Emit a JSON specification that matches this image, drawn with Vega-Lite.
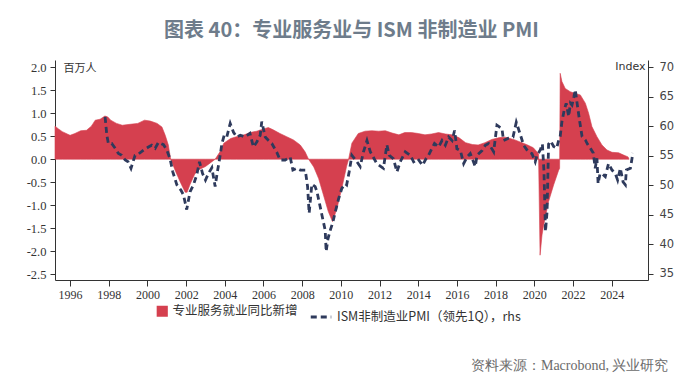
{
  "$schema": "https://vega.github.io/schema/vega-lite/v6.json",
  "width": 593,
  "height": 220,
  "autosize": {"type": "none"},
  "padding": {"left": 55, "top": 60, "right": 52, "bottom": 105},
  "background": "white",
  "config": {"view": {"stroke": null}, "axis": {"grid": false}},
  "title": {
    "text": "图表 40：专业服务业与 ISM 非制造业 PMI",
    "font": "Noto Sans CJK SC",
    "fontSize": 20,
    "fontWeight": "bold",
    "color": "#6e7c8b",
    "anchor": "middle",
    "frame": "group",
    "baseline": "middle",
    "offset": 9
  },
  "datasets": {
    "jobs": [{"t":1995.22,"v":0.72},{"t":1995.4,"v":0.66},{"t":1995.6,"v":0.6},{"t":1995.85,"v":0.55},{"t":1996.0,"v":0.52},{"t":1996.25,"v":0.56},{"t":1996.55,"v":0.62},{"t":1996.85,"v":0.63},{"t":1997.1,"v":0.72},{"t":1997.3,"v":0.85},{"t":1997.55,"v":0.87},{"t":1997.8,"v":0.94},{"t":1997.95,"v":0.92},{"t":1998.1,"v":0.85},{"t":1998.4,"v":0.78},{"t":1998.7,"v":0.74},{"t":1999.1,"v":0.76},{"t":1999.5,"v":0.78},{"t":1999.85,"v":0.85},{"t":2000.15,"v":0.83},{"t":2000.5,"v":0.78},{"t":2000.75,"v":0.7},{"t":2000.92,"v":0.52},{"t":2001.08,"v":0.31},{"t":2001.2,"v":0.0},{"t":2001.45,"v":-0.26},{"t":2001.7,"v":-0.5},{"t":2001.95,"v":-0.72},{"t":2002.05,"v":-0.72},{"t":2002.2,"v":-0.55},{"t":2002.45,"v":-0.32},{"t":2002.7,"v":-0.22},{"t":2003.0,"v":-0.16},{"t":2003.25,"v":-0.08},{"t":2003.5,"v":0.0},{"t":2003.75,"v":0.16},{"t":2003.95,"v":0.35},{"t":2004.3,"v":0.45},{"t":2004.6,"v":0.49},{"t":2005.0,"v":0.53},{"t":2005.3,"v":0.58},{"t":2005.65,"v":0.61},{"t":2006.0,"v":0.66},{"t":2006.25,"v":0.69},{"t":2006.5,"v":0.64},{"t":2006.85,"v":0.56},{"t":2007.2,"v":0.49},{"t":2007.55,"v":0.42},{"t":2007.9,"v":0.31},{"t":2008.15,"v":0.16},{"t":2008.33,"v":0.0},{"t":2008.6,"v":-0.17},{"t":2008.85,"v":-0.42},{"t":2009.1,"v":-0.78},{"t":2009.35,"v":-1.14},{"t":2009.57,"v":-1.36},{"t":2009.8,"v":-1.07},{"t":2010.05,"v":-0.63},{"t":2010.3,"v":-0.15},{"t":2010.4,"v":0.0},{"t":2010.57,"v":0.35},{"t":2010.9,"v":0.56},{"t":2011.25,"v":0.61},{"t":2011.6,"v":0.62},{"t":2011.95,"v":0.61},{"t":2012.3,"v":0.62},{"t":2012.65,"v":0.57},{"t":2013.0,"v":0.53},{"t":2013.3,"v":0.58},{"t":2013.65,"v":0.58},{"t":2014.0,"v":0.56},{"t":2014.35,"v":0.53},{"t":2014.7,"v":0.55},{"t":2015.05,"v":0.58},{"t":2015.4,"v":0.55},{"t":2015.75,"v":0.53},{"t":2016.1,"v":0.47},{"t":2016.45,"v":0.36},{"t":2016.8,"v":0.32},{"t":2017.1,"v":0.31},{"t":2017.45,"v":0.36},{"t":2017.8,"v":0.43},{"t":2018.2,"v":0.47},{"t":2018.5,"v":0.48},{"t":2018.75,"v":0.45},{"t":2019.0,"v":0.42},{"t":2019.3,"v":0.37},{"t":2019.6,"v":0.32},{"t":2019.95,"v":0.25},{"t":2020.22,"v":0.12},{"t":2020.3,"v":-2.09},{"t":2020.4,"v":-1.65},{"t":2020.48,"v":-1.45},{"t":2020.6,"v":-1.2},{"t":2020.74,"v":-0.92},{"t":2021.0,"v":-0.56},{"t":2021.26,"v":-0.24},{"t":2021.31,"v":-0.2},{"t":2021.34,"v":1.87},{"t":2021.43,"v":1.69},{"t":2021.6,"v":1.54},{"t":2021.86,"v":1.47},{"t":2022.12,"v":1.43},{"t":2022.38,"v":1.4},{"t":2022.64,"v":1.22},{"t":2022.81,"v":1.0},{"t":2022.98,"v":0.71},{"t":2023.24,"v":0.49},{"t":2023.5,"v":0.31},{"t":2023.76,"v":0.2},{"t":2024.02,"v":0.15},{"t":2024.36,"v":0.14},{"t":2024.62,"v":0.09},{"t":2024.85,"v":0.05},{"t":2024.9,"v":0.0}],
    "pmi": [{"t":1997.81,"r":61.6},{"t":1997.9,"r":58.5},{"t":1997.98,"r":57.1},{"t":1998.15,"r":57.1},{"t":1998.33,"r":56.3},{"t":1998.5,"r":55.4},{"t":1998.67,"r":55.1},{"t":1998.85,"r":54.3},{"t":1999.0,"r":54.0},{"t":1999.15,"r":52.9},{"t":1999.36,"r":55.1},{"t":1999.53,"r":55.3},{"t":1999.8,"r":56.0},{"t":2000.05,"r":56.5},{"t":2000.22,"r":56.8},{"t":2000.4,"r":56.3},{"t":2000.57,"r":57.3},{"t":2000.83,"r":56.9},{"t":2001.0,"r":56.0},{"t":2001.17,"r":54.5},{"t":2001.31,"r":52.3},{"t":2001.52,"r":50.1},{"t":2001.73,"r":49.2},{"t":2001.86,"r":48.4},{"t":2002.03,"r":45.9},{"t":2002.2,"r":48.9},{"t":2002.38,"r":50.1},{"t":2002.55,"r":51.8},{"t":2002.69,"r":54.0},{"t":2002.85,"r":52.0},{"t":2003.0,"r":50.9},{"t":2003.15,"r":52.0},{"t":2003.33,"r":53.0},{"t":2003.5,"r":49.8},{"t":2003.6,"r":52.0},{"t":2003.76,"r":55.1},{"t":2003.85,"r":57.1},{"t":2003.97,"r":58.5},{"t":2004.1,"r":58.2},{"t":2004.28,"r":60.5},{"t":2004.45,"r":59.0},{"t":2004.62,"r":58.2},{"t":2004.8,"r":58.5},{"t":2005.05,"r":58.2},{"t":2005.3,"r":58.8},{"t":2005.48,"r":56.5},{"t":2005.66,"r":57.4},{"t":2005.83,"r":58.5},{"t":2005.91,"r":60.8},{"t":2006.09,"r":58.2},{"t":2006.26,"r":57.6},{"t":2006.43,"r":57.1},{"t":2006.69,"r":55.6},{"t":2006.86,"r":54.3},{"t":2007.12,"r":54.3},{"t":2007.38,"r":54.8},{"t":2007.52,"r":52.6},{"t":2007.72,"r":52.9},{"t":2007.9,"r":52.6},{"t":2008.16,"r":52.6},{"t":2008.28,"r":49.8},{"t":2008.36,"r":45.3},{"t":2008.5,"r":50.2},{"t":2008.67,"r":49.8},{"t":2008.76,"r":49.0},{"t":2009.02,"r":45.0},{"t":2009.19,"r":42.4},{"t":2009.24,"r":38.8},{"t":2009.33,"r":40.9},{"t":2009.45,"r":42.4},{"t":2009.59,"r":43.8},{"t":2009.71,"r":45.5},{"t":2009.88,"r":47.7},{"t":2010.05,"r":49.5},{"t":2010.23,"r":50.3},{"t":2010.3,"r":50.1},{"t":2010.43,"r":52.3},{"t":2010.57,"r":55.1},{"t":2010.83,"r":54.0},{"t":2011.0,"r":53.2},{"t":2011.17,"r":55.7},{"t":2011.35,"r":57.6},{"t":2011.52,"r":55.7},{"t":2011.86,"r":53.7},{"t":2012.2,"r":52.9},{"t":2012.38,"r":56.9},{"t":2012.5,"r":55.1},{"t":2012.72,"r":54.5},{"t":2012.9,"r":52.3},{"t":2013.07,"r":54.0},{"t":2013.33,"r":55.7},{"t":2013.59,"r":55.1},{"t":2013.76,"r":54.0},{"t":2013.98,"r":54.5},{"t":2014.22,"r":53.4},{"t":2014.4,"r":54.5},{"t":2014.53,"r":55.1},{"t":2014.84,"r":57.1},{"t":2015.05,"r":56.5},{"t":2015.23,"r":57.6},{"t":2015.4,"r":56.8},{"t":2015.57,"r":58.2},{"t":2015.75,"r":57.6},{"t":2015.88,"r":59.3},{"t":2016.0,"r":56.2},{"t":2016.18,"r":55.9},{"t":2016.35,"r":53.7},{"t":2016.52,"r":54.8},{"t":2016.69,"r":55.4},{"t":2016.95,"r":53.2},{"t":2017.04,"r":55.1},{"t":2017.3,"r":55.9},{"t":2017.47,"r":56.8},{"t":2017.64,"r":57.1},{"t":2017.9,"r":55.7},{"t":2018.07,"r":60.2},{"t":2018.16,"r":60.0},{"t":2018.33,"r":59.6},{"t":2018.41,"r":57.6},{"t":2018.67,"r":58.0},{"t":2018.9,"r":58.2},{"t":2019.07,"r":60.7},{"t":2019.28,"r":58.6},{"t":2019.45,"r":56.8},{"t":2019.71,"r":55.6},{"t":2019.88,"r":55.4},{"t":2020.05,"r":54.0},{"t":2020.14,"r":55.1},{"t":2020.31,"r":56.0},{"t":2020.42,"r":57.0},{"t":2020.5,"r":52.5},{"t":2020.58,"r":42.2},{"t":2020.66,"r":45.5},{"t":2020.74,"r":57.0},{"t":2020.85,"r":57.5},{"t":2021.0,"r":56.6},{"t":2021.16,"r":56.3},{"t":2021.25,"r":57.5},{"t":2021.34,"r":58.3},{"t":2021.43,"r":60.8},{"t":2021.55,"r":62.8},{"t":2021.65,"r":63.9},{"t":2021.78,"r":61.7},{"t":2021.87,"r":63.9},{"t":2021.95,"r":63.6},{"t":2022.05,"r":65.0},{"t":2022.12,"r":66.2},{"t":2022.24,"r":63.3},{"t":2022.35,"r":60.8},{"t":2022.47,"r":58.3},{"t":2022.64,"r":57.7},{"t":2022.75,"r":57.0},{"t":2022.9,"r":56.3},{"t":2023.05,"r":55.5},{"t":2023.15,"r":52.9},{"t":2023.24,"r":54.6},{"t":2023.3,"r":50.3},{"t":2023.4,"r":52.0},{"t":2023.5,"r":52.0},{"t":2023.67,"r":51.5},{"t":2023.84,"r":53.7},{"t":2024.02,"r":52.6},{"t":2024.19,"r":52.0},{"t":2024.31,"r":50.9},{"t":2024.45,"r":52.9},{"t":2024.59,"r":50.6},{"t":2024.71,"r":50.1},{"t":2024.76,"r":52.6},{"t":2024.97,"r":52.9},{"t":2025.1,"r":55.5}]
  },
  "layer": [
    {
      "data": {"name": "jobs"},
      "mark": {"type": "area", "fill": "#d5404f", "strokeWidth": 0.6, "opacity": 1},
      "encoding": {
        "x": {
          "field": "t", "type": "quantitative",
          "scale": {"domain": [1995.22, 2025.88], "nice": false, "zero": false},
          "axis": {
            "values": [1996,1998,2000,2002,2004,2006,2008,2010,2012,2014,2016,2018,2020,2022,2024],
            "format": "d",
            "labelFont": "Liberation Serif", "labelFontSize": 12, "labelColor": "#333",
            "domainColor": "#333", "tickColor": "#333", "tickSize": 6, "labelPadding": 3,
            "labelFlush": false,
            "title": "资料来源：Macrobond, 兴业研究",
            "titleFont": "Liberation Serif", "titleFontSize": 14, "titleFontWeight": "normal",
            "titleColor": "#6b6b6b", "titleX": 613, "titleY": 85, "titleAlign": "right", "titleBaseline": "middle"
          }
        },
        "y": {
          "field": "v", "type": "quantitative", "stack": null,
          "scale": {"domain": [-2.63, 2.16], "nice": false, "zero": false},
          "axis": {
            "values": [-2.5,-2.0,-1.5,-1.0,-0.5,0.0,0.5,1.0,1.5,2.0],
            "labelExpr": "replace(format(datum.value, '.1f'), '−', '-')",
            "labelFont": "Liberation Serif", "labelFontSize": 12.5, "labelColor": "#333",
            "domainColor": "#333", "tickColor": "#333", "tickSize": 5, "labelPadding": 4,
            "title": "百万人", "titleAngle": 0, "titleX": 8, "titleY": 8,
            "titleAlign": "left", "titleBaseline": "middle",
            "titleFont": "Noto Sans CJK SC", "titleFontSize": 11, "titleFontWeight": "normal", "titleColor": "#333"
          }
        },
        "y2": {"datum": 0},
        "stroke": {
          "datum": "专业服务就业同比新增", "type": "nominal",
          "scale": {"domain": ["专业服务就业同比新增"], "range": ["#d5404f"]},
          "legend": {
            "orient": "none", "legendX": 101, "legendY": 245, "title": null,
            "labelFont": "Noto Sans CJK SC", "labelFontSize": 12.5, "labelColor": "#333", "labelLimit": 300,
            "symbolType": "square", "symbolSize": 80, "symbolFillColor": "#ffffff",
            "symbolStrokeWidth": 2.2, "symbolStrokeColor": "#d5404f", "labelOffset": 4,
            "encode": {
              "symbols": {
                "update": {
                  "fill": {"value": "#fdecee"},
                  "stroke": {"value": "#d5404f"},
                  "strokeWidth": {"value": 2.4}
                }
              }
            }
          }
        }
      }
    },
    {
      "data": {"name": "pmi"},
      "mark": {"type": "line", "stroke": "#2e3a5c", "strokeWidth": 2.8, "strokeCap": "butt"},
      "encoding": {
        "x": {"field": "t", "type": "quantitative"},
        "y": {
          "field": "r", "type": "quantitative",
          "scale": {"domain": [33.98, 71.24], "nice": false, "zero": false},
          "axis": {
            "orient": "right",
            "values": [35,40,45,50,55,60,65,70],
            "labelFont": "DejaVu Sans", "labelFontSize": 11.5, "labelColor": "#444",
            "domainColor": "#333", "tickColor": "#333", "tickSize": 5, "labelPadding": 6,
            "title": "Index", "titleAngle": 0, "titleX": -3, "titleY": 6,
            "titleAlign": "right", "titleBaseline": "middle",
            "titleFont": "DejaVu Sans", "titleFontSize": 11, "titleFontWeight": "normal", "titleColor": "#333"
          }
        },
        "strokeDash": {
          "datum": "ISM非制造业PMI（领先1Q），rhs", "type": "nominal",
          "scale": {"domain": ["ISM非制造业PMI（领先1Q），rhs"], "range": [[6, 4]]},
          "legend": {
            "orient": "none", "legendX": 254, "legendY": 245, "title": null,
            "labelFont": "Noto Sans CJK SC", "labelFontSize": 12.5, "labelColor": "#333", "labelLimit": 300,
            "symbolType": "stroke", "symbolSize": 420, "symbolStrokeWidth": 3,
            "symbolStrokeColor": "#2e3a5c", "labelOffset": 4
          }
        }
      }
    }
  ],
  "resolve": {"scale": {"y": "independent"}, "axis": {"y": "independent"}}
}
